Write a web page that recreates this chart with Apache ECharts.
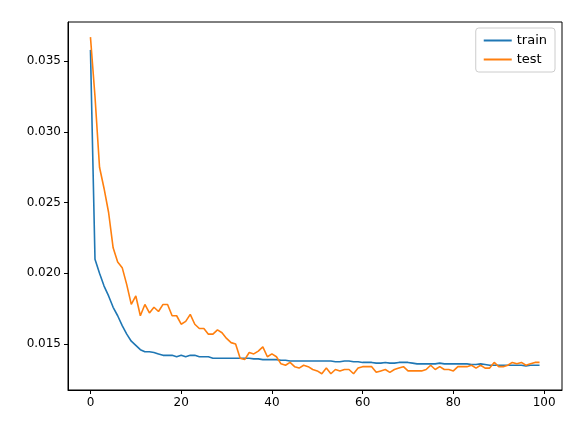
<!DOCTYPE html>
<html>
<head>
<meta charset="utf-8">
<script src="https://cdn.jsdelivr.net/npm/echarts@6/dist/echarts.min.js"></script>
<style>html,body{margin:0;padding:0;background:#fff}#chart{width:577px;height:428px}</style>
</head>
<body>
<div id="chart"></div>
<script>
var train = [0.0358, 0.0210, 0.0200, 0.0191, 0.0184, 0.0176, 0.0170, 0.0163, 0.0157, 0.0152,
  0.0149, 0.0146, 0.01445, 0.01445, 0.0144, 0.0143, 0.0142, 0.0142, 0.0142, 0.0141,
  0.0142, 0.0141, 0.0142, 0.0142, 0.0141, 0.0141, 0.0141, 0.0140, 0.0140, 0.0140,
  0.0140, 0.0140, 0.0140, 0.0140, 0.0140, 0.0140, 0.01395, 0.01395, 0.0139, 0.0139,
  0.0139, 0.0139, 0.01385, 0.01385, 0.0138, 0.0138, 0.0138, 0.0138, 0.0138, 0.0138,
  0.0138, 0.0138, 0.0138, 0.0138, 0.01375, 0.01375, 0.0138, 0.0138, 0.01375, 0.01375,
  0.0137, 0.0137, 0.0137, 0.01365, 0.01365, 0.0137, 0.01365, 0.01365, 0.0137, 0.0137,
  0.0137, 0.01365, 0.0136, 0.0136, 0.0136, 0.0136, 0.0136, 0.01365, 0.0136, 0.0136,
  0.0136, 0.0136, 0.0136, 0.0136, 0.01355, 0.01355, 0.0136, 0.01355, 0.0135, 0.0135,
  0.0135, 0.0135, 0.0135, 0.0135, 0.0135, 0.0135, 0.01345, 0.0135, 0.0135, 0.0135];
var test = [0.0367, 0.0325, 0.0275, 0.0260, 0.0243, 0.0218, 0.0208, 0.0204, 0.0192, 0.0178,
  0.0184, 0.0170, 0.0178, 0.0172, 0.0176, 0.0173, 0.0178, 0.0178, 0.0170, 0.0170,
  0.0164, 0.0166, 0.0171, 0.0164, 0.0161, 0.0161, 0.0157, 0.0157, 0.0160, 0.0158,
  0.0154, 0.0151, 0.0150, 0.0140, 0.0139, 0.0144, 0.0143, 0.0145, 0.0148, 0.0141,
  0.0143, 0.0141, 0.0136, 0.0135, 0.0137, 0.0134, 0.0133, 0.0135, 0.0134, 0.0132,
  0.0131, 0.0129, 0.0133, 0.0129, 0.0132, 0.0131, 0.0132, 0.0132, 0.0129, 0.0133,
  0.0134, 0.0134, 0.0134, 0.0130, 0.0131, 0.0132, 0.0130, 0.0132, 0.0133, 0.0134,
  0.0131, 0.0131, 0.0131, 0.0131, 0.0132, 0.0135, 0.0132, 0.0134, 0.0132, 0.0132,
  0.0131, 0.0134, 0.0134, 0.0134, 0.0135, 0.0133, 0.0135, 0.0133, 0.0133, 0.0137,
  0.0134, 0.0134, 0.0135, 0.0137, 0.0136, 0.0137, 0.0135, 0.0136, 0.0137, 0.0137];
var xTicks = [0, 20, 40, 60, 80, 100];
var yTicks = [0.015, 0.020, 0.025, 0.030, 0.035];

function pairs(arr) {
  return arr.map(function (v, i) { return [i, v]; });
}

var myChart = echarts.init(document.getElementById('chart'));
var font = 'DejaVu Sans';
var option = {
  animation: false,
  textStyle: {fontFamily: font},
  grid: {left: 68, right: 15, top: 22, bottom: 38, containLabel: false,
    show: true, borderColor: '#000', borderWidth: 1},
  legend: {
    right: 22, top: 28, orient: 'vertical', itemGap: 6,
    itemWidth: 28, itemHeight: 2, icon: 'rect',
    backgroundColor: '#fff', borderColor: '#ccc', borderWidth: 1, borderRadius: 3,
    padding: [6, 8, 6, 8],
    textStyle: {fontSize: 13, color: '#000', fontFamily: font},
    data: ['train', 'test']
  },
  xAxis: {
    type: 'value', min: -4.95, max: 103.95,
    axisLine: {show: true, onZero: false, lineStyle: {color: '#000'}},
    axisTick: {show: true, customValues: xTicks, length: 4, lineStyle: {color: '#000'}},
    axisLabel: {customValues: xTicks, color: '#000', fontSize: 12, margin: 7},
    splitLine: {show: false}
  },
  yAxis: {
    type: 'value', min: 0.01175, max: 0.03777,
    axisLine: {show: true, onZero: false, lineStyle: {color: '#000'}},
    axisTick: {show: true, customValues: yTicks, length: 4, lineStyle: {color: '#000'}},
    axisLabel: {customValues: yTicks, color: '#000', fontSize: 12, margin: 7,
      formatter: function (v) { return v.toFixed(3); }},
    splitLine: {show: false}
  },
  series: [
    {name: 'train', type: 'line', data: pairs(train), showSymbol: false,
      itemStyle: {color: '#1f77b4'}, lineStyle: {width: 1.6, color: '#1f77b4'}},
    {name: 'test', type: 'line', data: pairs(test), showSymbol: false,
      itemStyle: {color: '#ff7f0e'}, lineStyle: {width: 1.6, color: '#ff7f0e'}}
  ]
};
myChart.setOption(option);
</script>
</body>
</html>
